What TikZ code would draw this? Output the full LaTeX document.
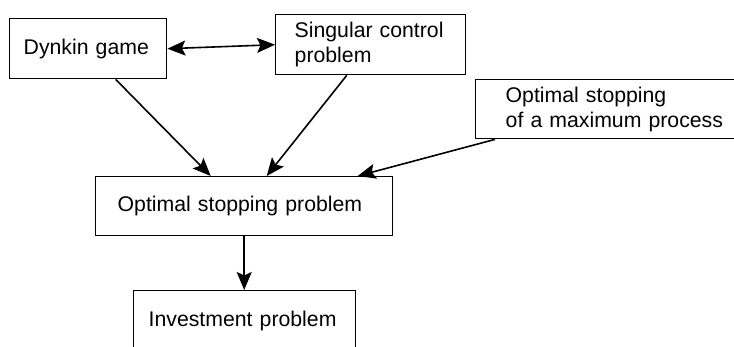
\documentclass[tikz,border=0pt]{standalone}
\usepackage{fontspec}
\setmainfont{Liberation Sans}
\usetikzlibrary{positioning}
\usetikzlibrary{arrows.meta}
\usetikzlibrary{calc}

\begin{document}
\begin{tikzpicture}[x=1pt, y=-1pt,
  box/.style={draw, line width=1.4pt, rectangle, align=left, anchor=north west,
    inner ysep=0pt, font=\fontsize{21.25}{25}\selectfont},
  link/.style={line width=1.6pt, -{Stealth[length=18pt, width=15pt, inset=3.5pt]}},
  dlink/.style={line width=1.6pt, {Stealth[length=18pt, width=15pt, inset=3.5pt]}-{Stealth[length=18pt, width=15pt, inset=3.5pt]}}]
  \clip (0,0) rectangle (734,346);

  \node[box, minimum height=60pt, text width=129pt, inner xsep=14pt] (dynkin) at (9,18) {Dynkin game};
  \node[box, minimum height=60pt, text width=152pt, inner xsep=19pt] (singular) at (275,14) {Singular control\\problem};
  \node[box, minimum height=59pt, text width=260pt, inner xsep=30pt] (maxproc) at (475,79) {Optimal stopping\\of a maximum process};
  \node[box, minimum height=59pt, text width=253pt, inner xsep=22pt] (optstop) at (95,176) {Optimal stopping problem};
  \node[box, minimum height=60pt, text width=192pt, inner xsep=15pt] (invest) at (133,290) {Investment problem};

  \draw[dlink] (dynkin.east) -- (singular.west);
  \draw[link] ([xshift=27.5pt]dynkin.south) -- ([xshift=-33.5pt]optstop.north);
  \draw[link] ([xshift=-24pt]singular.south) -- ([xshift=22.5pt]optstop.north);
  \draw[link] ([xshift=20pt]maxproc.south west) -- ([xshift=113.5pt]optstop.north);
  \draw[link] (optstop.south) -- (optstop.south |- invest.north);
\end{tikzpicture}
\end{document}
